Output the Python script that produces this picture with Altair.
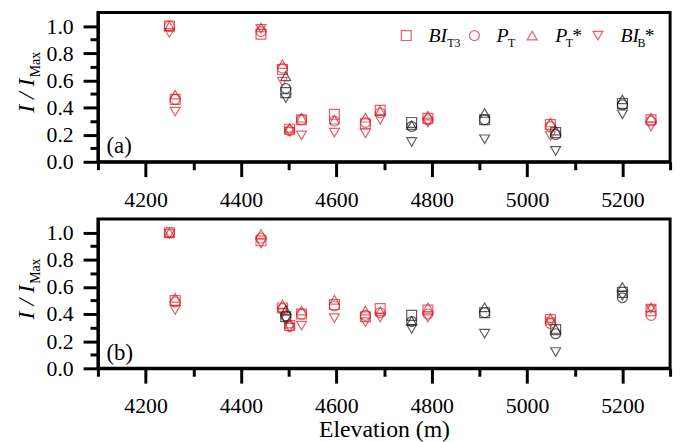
import altair as alt
import pandas as pd

FONT = "Liberation Serif, Times New Roman, serif"
RED = "#DC1E28"
BLACK = "#1a1a1a"

elevations = [4250, 4262, 4442, 4487, 4494, 4502, 4527, 4596, 4661, 4692,
              4758, 4792, 4911, 5049, 5060, 5200, 5260]
site_group = ["red", "red", "red", "red", "black", "red", "red", "red", "red", "red",
              "black", "red", "black", "red", "black", "black", "red"]

series_names = ["BI_T3", "P_T", "P_T*", "BI_B*"]
series_shapes = ["square", "circle", "triangle-up", "triangle-down"]

# panel (a)
a_BI_T3 = [1.00, 0.46, 0.94, 0.68, 0.51, 0.24, 0.31, 0.35, 0.28, 0.38, 0.29, 0.32, 0.31, 0.275, 0.215, 0.43, 0.31]
a_P_T = [1.00, 0.46, 0.96, 0.69, 0.54, 0.23, 0.31, 0.30, 0.29, 0.36, 0.26, 0.31, 0.31, 0.26, 0.20, 0.42, 0.30]
a_P_T_star = [1.00, 0.495, 0.99, 0.72, 0.63, 0.25, 0.325, 0.31, 0.325, 0.375, 0.27, 0.34, 0.36, 0.29, 0.23, 0.46, 0.325]
a_BI_B_star = [0.95, 0.37, 0.98, 0.59, 0.47, 0.22, 0.195, 0.215, 0.21, 0.31, 0.146, 0.29, 0.166, 0.19, 0.08, 0.35, 0.26]

# panel (b)
b_BI_T3 = [1.00, 0.50, 0.94, 0.445, 0.38, 0.315, 0.40, 0.47, 0.38, 0.44, 0.39, 0.43, 0.41, 0.36, 0.285, 0.56, 0.425]
b_P_T = [1.00, 0.49, 0.96, 0.44, 0.385, 0.31, 0.40, 0.46, 0.39, 0.41, 0.345, 0.40, 0.41, 0.33, 0.255, 0.52, 0.39]
b_P_T_star = [1.00, 0.52, 0.99, 0.47, 0.43, 0.33, 0.425, 0.505, 0.425, 0.42, 0.35, 0.45, 0.45, 0.37, 0.29, 0.60, 0.45]
b_BI_B_star = [0.99, 0.43, 0.92, 0.41, 0.36, 0.30, 0.315, 0.37, 0.34, 0.375, 0.29, 0.375, 0.255, 0.34, 0.12, 0.535, 0.44]

x_ticks = list(range(4100, 5301, 100))
y_ticks = [round(i * 0.1, 1) for i in range(0, 11)]

W, H = 579, 151


def long_df(lists):
    rows = []
    for name, vals in zip(series_names, lists):
        for e, g, v in zip(elevations, site_group, vals):
            rows.append({"elev": e, "group": g, "series": name, "value": v})
    return pd.DataFrame(rows)


dummy = pd.DataFrame({"k": [0]})


def txt(s, x, y, size, italic=False, align="left", angle=None, baseline="alphabetic"):
    kw = dict(text=s, fontSize=size, font=FONT, align=align, baseline=baseline, color="black")
    if italic:
        kw["fontStyle"] = "italic"
    if angle is not None:
        kw["angle"] = angle
    return alt.Chart(dummy).mark_text(**kw).encode(x=alt.value(x), y=alt.value(y))


def sym(shape, x, y):
    return alt.Chart(dummy).mark_point(shape=shape, size=100, filled=False, color=RED,
                                       strokeWidth=1.2).encode(x=alt.value(x), y=alt.value(y))


def panel(lists, label, show_title, legend):
    xaxis = alt.Axis(
        values=x_ticks,
        tickSize={"condition": {"test": "datum.value % 200 === 0", "value": 15}, "value": 8},
        labelExpr="datum.value % 200 === 0 ? datum.label : ''",
        labelFont=FONT, labelFontSize=22, labelColor="black", labelPadding=13,
        tickColor="black", tickWidth=3, domainColor="black", domainWidth=3,
        grid=False, format="d", labelFlush=False,
        title="Elevation (m)" if show_title else None,
        titleFont=FONT, titleFontSize=24, titleFontWeight="normal", titleColor="black",
        titlePadding=1,
    )
    yaxis = alt.Axis(
        values=y_ticks,
        tickSize={"condition": {"test": "round(datum.value*10) % 2 === 0", "value": 15}, "value": 8},
        labelExpr="round(datum.value*10) % 2 === 0 ? format(datum.value, '.1f') : ''",
        labelFont=FONT, labelFontSize=22, labelColor="black", labelPadding=10,
        tickColor="black", tickWidth=3, domainColor="black", domainWidth=3,
        grid=False, title=None, labelFlush=False,
    )
    pts = alt.Chart(long_df(lists)).mark_point(filled=False, size=100, strokeWidth=1.2).encode(
        x=alt.X("elev:Q", scale=alt.Scale(domain=[4100, 5300], nice=False, zero=False), axis=xaxis),
        y=alt.Y("value:Q", scale=alt.Scale(domain=[0, 1.1], nice=False, zero=False), axis=yaxis),
        shape=alt.Shape("series:N", scale=alt.Scale(domain=series_names, range=series_shapes), legend=None),
        color=alt.Color("group:N", scale=alt.Scale(domain=["red", "black"], range=[RED, BLACK]), legend=None),
    )
    layers = [pts,
              txt(label, 8.7, 142.3, 23),
              txt("I / I", -65, 101.5, 24, italic=True, angle=270),
              txt("Max", -59, 65.5, 14, angle=270)]
    if legend:
        ly = 23.3
        layers += [
            sym("square", 312, ly), txt("BI", 334.4, 30, 20, italic=True), txt("T3", 353.4, 35, 12),
            sym("circle", 381, ly), txt("P", 403.4, 30, 20, italic=True), txt("T", 415, 35, 12),
            sym("triangle-up", 439.4, ly), txt("P", 462.7, 30, 20, italic=True), txt("T", 473.4, 35, 12),
            txt("*", 480, 30, 20),
            sym("triangle-down", 506, ly), txt("BI", 528.7, 30, 20, italic=True), txt("B", 546, 35, 12),
            txt("*", 553.4, 30, 20),
        ]
    return alt.layer(*layers).properties(width=W, height=H)


chart = alt.vconcat(
    panel([a_BI_T3, a_P_T, a_P_T_star, a_BI_B_star], "(a)", False, True),
    panel([b_BI_T3, b_P_T, b_P_T_star, b_BI_B_star], "(b)", True, False),
    spacing=5,
).configure_view(stroke="black", strokeWidth=3).properties(
    padding={"left": 5, "top": 0, "right": 5, "bottom": 0},
    background="white",
)

chart.save("out.html", embed_options={"renderer": "svg", "actions": False})
